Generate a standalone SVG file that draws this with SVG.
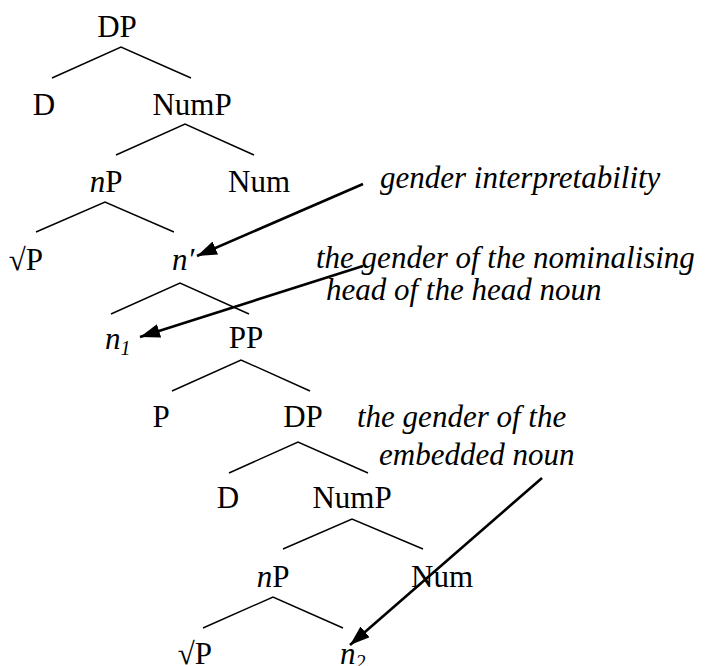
<svg xmlns="http://www.w3.org/2000/svg" width="710" height="666" viewBox="0 0 710 666">
<style>
text{font-family:"Liberation Serif","Times New Roman",serif;font-size:31px;fill:#000}
.m{text-anchor:middle}
.i{font-style:italic}
.sub{font-size:20px;font-style:italic}
.br{stroke:#000;stroke-width:1.4;fill:none}
.ar{stroke:#000;stroke-width:2.6;fill:none;marker-end:url(#ah)}
</style>
<defs>
<marker id="ah" markerUnits="userSpaceOnUse" markerWidth="22" markerHeight="16" refX="20" refY="7" orient="auto">
<path d="M0,0 L20,7 L0,14 z" fill="#000"/>
</marker>
</defs>
<g id="branches">
<path class="br" d="M52,78 L121,47 L191,78"/>
<path class="br" d="M116,155 L185,124 L254,155"/>
<path class="br" d="M36,232 L105,202 L174,232"/>
<path class="br" d="M111,314 L180,283 L249,314"/>
<path class="br" d="M172,391 L241,360 L310,391"/>
<path class="br" d="M229,473 L298,442 L368,473"/>
<path class="br" d="M283,549 L352,519 L423,549"/>
<path class="br" d="M203,628 L273,597 L343,628"/>
</g>
<g id="dp1"><text class="m" x="117" y="37">DP</text></g>
<g id="d1"><text class="m" x="44" y="115">D</text></g>
<g id="nump1"><text class="m" x="192" y="115">NumP</text></g>
<g id="np1"><text class="m" x="106" y="192"><tspan class="i">n</tspan>P</text></g>
<g id="num1"><text class="m" x="259" y="192">Num</text></g>
<g id="rootp1"><text class="m" x="26" y="270">√P</text></g>
<g id="nbar"><text class="i" x="172" y="270">n′</text></g>
<g id="n1"><text x="105" y="349"><tspan class="i">n</tspan><tspan class="sub" dy="6">1</tspan></text></g>
<g id="pp"><text class="m" x="246" y="348">PP</text></g>
<g id="p"><text class="m" x="161" y="427">P</text></g>
<g id="dp2"><text class="m" x="303" y="427">DP</text></g>
<g id="d2"><text class="m" x="228" y="508">D</text></g>
<g id="nump2"><text class="m" x="352" y="508">NumP</text></g>
<g id="np2"><text class="m" x="273" y="587"><tspan class="i">n</tspan>P</text></g>
<g id="num2"><text class="m" x="442" y="587">Num</text></g>
<g id="rootp2"><text class="m" x="195" y="664">√P</text></g>
<g id="n2"><text x="340" y="664"><tspan class="i">n</tspan><tspan class="sub" dy="5">2</tspan></text></g>
<g id="label1"><text class="i" x="380" y="188">gender interpretability</text></g>
<g id="label2"><text class="i" x="316" y="268">the gender of the nominalising</text><text class="i" x="326" y="300">head of the head noun</text></g>
<g id="label3"><text class="i" x="357" y="427">the gender of the</text><text class="i" x="379" y="465">embedded noun</text></g>
<g id="connectors">
<line class="ar" x1="363" y1="184" x2="197" y2="256"/>
<line class="ar" x1="363" y1="266" x2="140" y2="337"/>
<line class="ar" x1="542" y1="478" x2="350" y2="645"/>
</g>
</svg>
